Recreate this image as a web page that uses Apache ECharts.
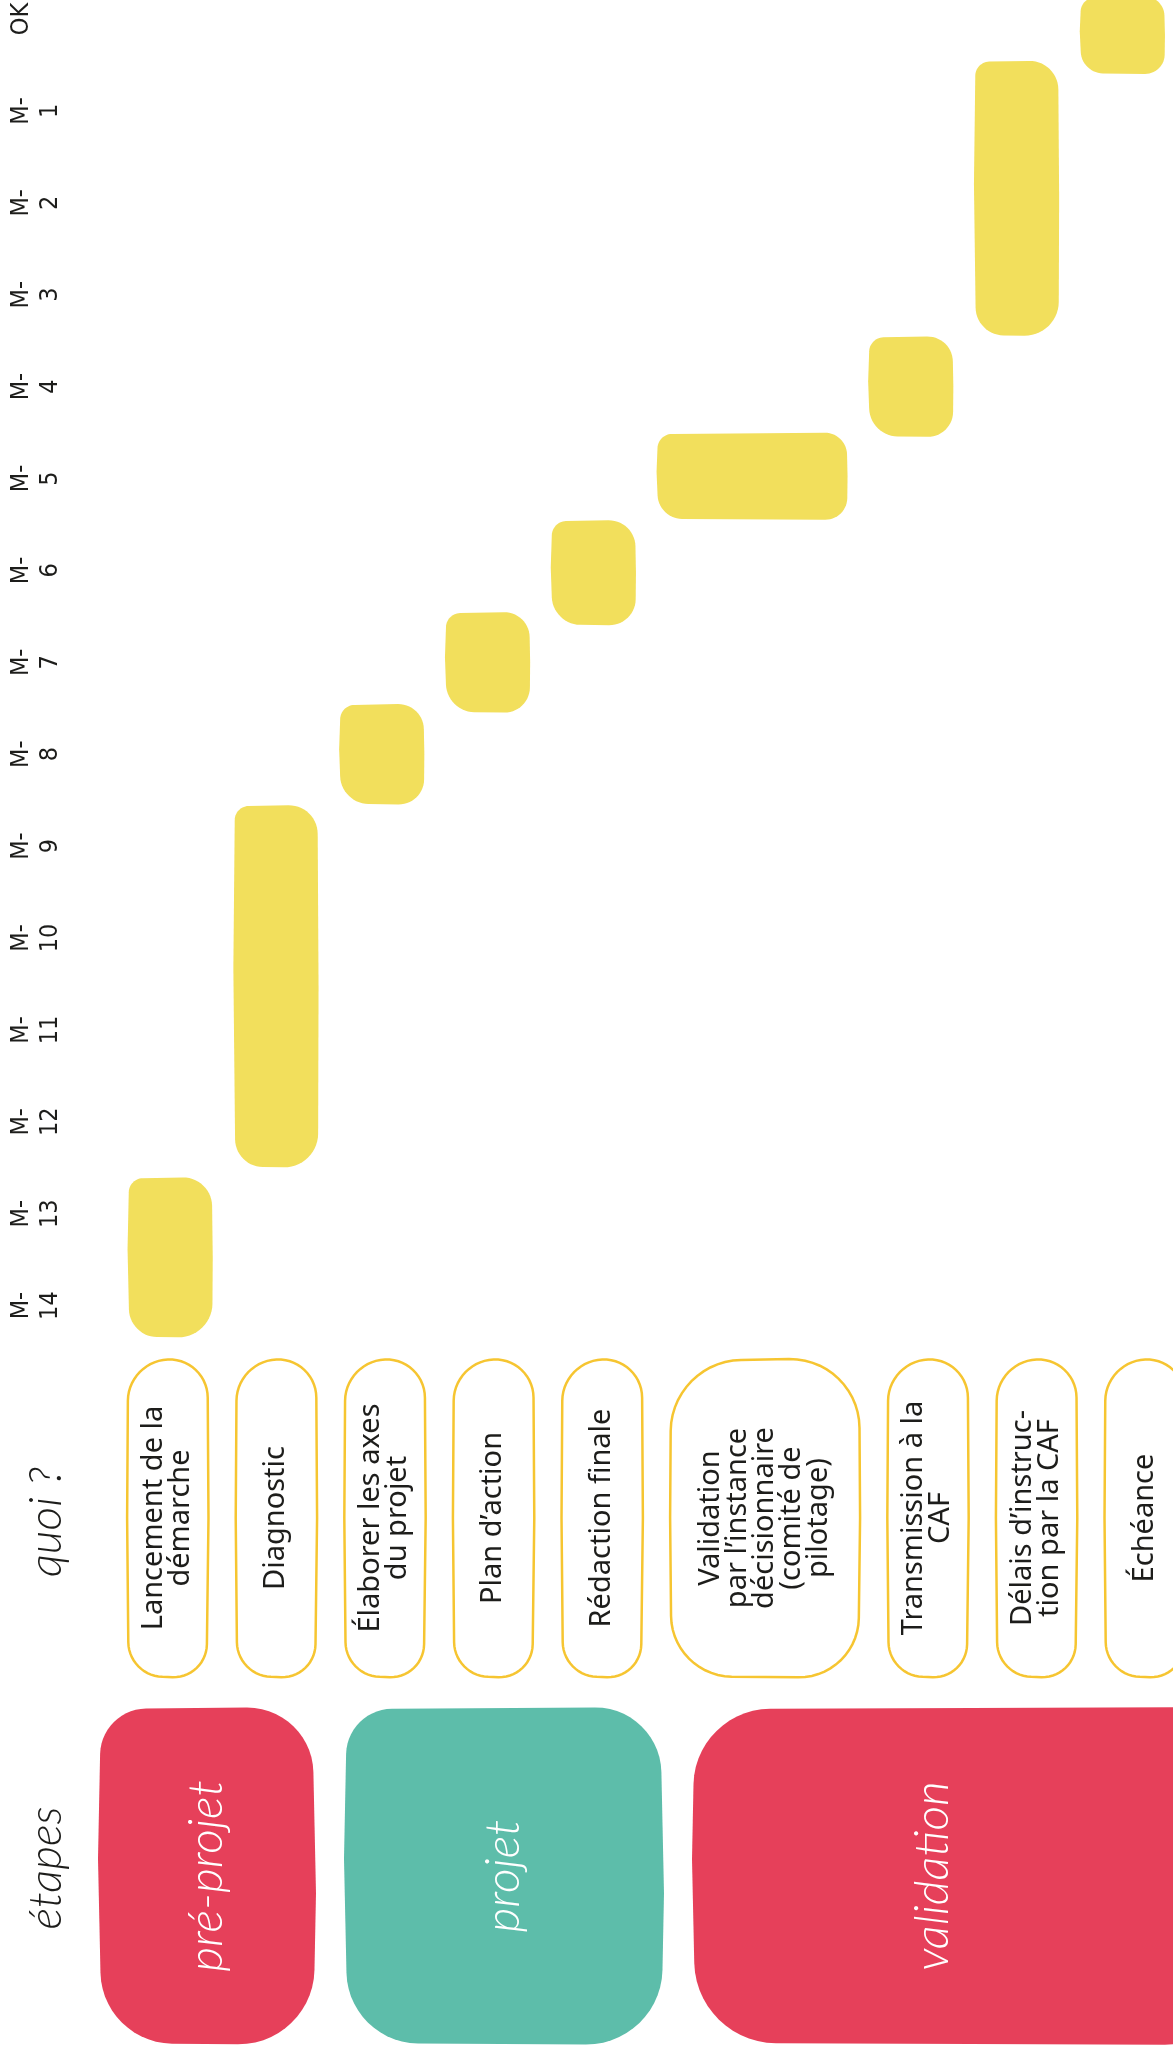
<!DOCTYPE html>
<html><head><meta charset="utf-8">
<style>html,body{margin:0;padding:0;background:#fff}#c{width:1173px;height:2054px}</style>
<script src="https://cdn.jsdelivr.net/npm/echarts@6/dist/echarts.min.js"></script>
</head><body><div id="c"></div>
<script>
// ---- data ----
const TICK_LABELS = ['OK','M-\n1','M-\n2','M-\n3','M-\n4','M-\n5','M-\n6','M-\n7','M-\n8','M-\n9','M-\n10','M-\n11','M-\n12','M-\n13','M-\n14'];
const TASKS = [
  'Lancement de la\ndémarche',
  'Diagnostic',
  'Élaborer les axes\ndu projet',
  'Plan d’action',
  'Rédaction finale',
  'Validation\npar l’instance\ndécisionnaire\n(comité de\npilotage)',
  'Transmission à la\nCAF',
  'Délais d’instruc-\ntion par la CAF',
  'Échéance'
];
// months before the deadline (start = earliest, end = latest)
const START = [14.35, 12.5, 8.55, 7.55, 6.6, 5.45, 4.55, 3.45, 0.6];
const END   = [12.6, 8.55, 7.45, 6.45, 5.45, 4.5, 3.45, 0.45, -0.25];
const PHASES = ['pré-projet', 'projet', 'validation'];
const PHASE_OF_TASK = [0, 0, 1, 1, 1, 2, 2, 2, 2];

// ---- style ----
const YELLOW = '#F2DF5C', OUTLINE = '#F6C531', RED = '#E6405A', TEAL = '#5DBDAA', INK = '#1d1d1b';
const PHASE_COLORS = [RED, TEAL, RED];
const SCRIPT = { fontFamily: 'Lato', fontStyle: 'italic', fontWeight: 300 };

// column layout derived from label length
const WEIGHTS = TASKS.map(t => t.split('\n').length >= 4 ? 2 : 1);
const COL_START = [];
let TOTAL = 0;
WEIGHTS.forEach(w => { COL_START.push(TOTAL); TOTAL += w; });

const barData = TASKS.map((t, i) => [COL_START[i], COL_START[i] + WEIGHTS[i], START[i], END[i]]);
const boxData = TASKS.map((t, i) => [COL_START[i], COL_START[i] + WEIGHTS[i], i]);
const phaseData = PHASES.map((p, k) => {
  const idx = PHASE_OF_TASK.map((v, i) => v === k ? i : -1).filter(i => i >= 0);
  const last = idx[idx.length - 1];
  return [COL_START[idx[0]], COL_START[last] + WEIGHTS[last], k];
});

// rounded polygon with per-corner radius (hand-drawn look)
function roundPoly(P, r) {
  const pts = [], n = P.length;
  for (let i = 0; i < n; i++) {
    const prev = P[(i + n - 1) % n], cur = P[i], next = P[(i + 1) % n];
    const d1 = Math.hypot(prev[0] - cur[0], prev[1] - cur[1]);
    const d2 = Math.hypot(next[0] - cur[0], next[1] - cur[1]);
    const ri = Math.min(r[i], d1 / 2, d2 / 2);
    if (ri <= 0.5) { pts.push(cur); continue; }
    const A = [cur[0] + (prev[0] - cur[0]) * ri / d1, cur[1] + (prev[1] - cur[1]) * ri / d1];
    const B = [cur[0] + (next[0] - cur[0]) * ri / d2, cur[1] + (next[1] - cur[1]) * ri / d2];
    const c1 = [A[0] + (cur[0] - A[0]) * 0.552, A[1] + (cur[1] - A[1]) * 0.552];
    const c2 = [B[0] + (cur[0] - B[0]) * 0.552, B[1] + (cur[1] - B[1]) * 0.552];
    for (let s = 0; s <= 14; s++) {
      const t = s / 14, u = 1 - t;
      pts.push([
        u * u * u * A[0] + 3 * u * u * t * c1[0] + 3 * u * t * t * c2[0] + t * t * t * B[0],
        u * u * u * A[1] + 3 * u * u * t * c1[1] + 3 * u * t * t * c2[1] + t * t * t * B[1]
      ]);
    }
  }
  return pts;
}

function renderBar(params, api) {
  const p0 = api.coord([api.value(0) + 0.095, api.value(3)]);
  const p1 = api.coord([api.value(1) - 0.095, api.value(2)]);
  const x = p0[0], y = p0[1], w = p1[0] - p0[0], h = p1[1] - p0[1];
  const s = Math.min(w, 86);
  const P = [[x + 2, y + 1.5], [x + w - 1, y], [x + w, y + h * 0.5], [x + w - 0.5, y + h], [x + 2.5, y + h - 1], [x + 0.5, y + h * 0.45]];
  const R = [s * 0.16, s * 0.34, 0, s * 0.4, s * 0.32, 0];
  return { type: 'polygon', shape: { points: roundPoly(P, R) }, style: { fill: YELLOW } };
}

function renderBox(params, api) {
  const cs = params.coordSys;
  const i = api.value(2);
  const l = api.coord([api.value(0) + 0.13, 0])[0];
  const r = api.coord([api.value(1) - 0.13, 0])[0];
  const w = r - l, y = cs.y, h = cs.height;
  const P = [[l + 1, y + 3], [l + w, y], [l + w + 1, y + h * 0.5], [l + w - 1, y + h], [l + 1.5, y + h - 2], [l, y + h * 0.5]];
  const rt = Math.min(w * 0.5, 70), rb = Math.min(w * 0.42, 60);
  const R = [rt, rt, 0, rb, rb, 0];
  return {
    type: 'group',
    children: [
      { type: 'polygon', shape: { points: roundPoly(P, R) },
        style: { fill: '#fff', stroke: OUTLINE, lineWidth: 2.5 } },
      { type: 'text', x: l + w / 2, y: y + h / 2, rotation: Math.PI / 2,
        style: { text: TASKS[i], fontSize: 29, lineHeight: 27, fontFamily: 'Noto Sans', fill: INK, align: 'center', verticalAlign: 'middle' } }
    ]
  };
}

function renderPhase(params, api) {
  const cs = params.coordSys;
  const k = api.value(2);
  const u0 = api.value(0);
  const l = api.coord([u0, 0])[0] + (u0 === 0 ? 0 : 14);
  const r = api.coord([api.value(1), 0])[0] - 14;
  const w = r - l, y = cs.y, h = cs.height;
  const P = [[l + 3, y + 2], [l + w - 4, y], [l + w, y + h * 0.55], [l + w - 3, y + h], [l + 4, y + h - 2], [l, y + h * 0.45]];
  const R = k === 2 ? [95, 60, 0, 80, 80, 0] : [45, 65, 0, 75, 70, 0];
  const visR = Math.min(r, 1173);
  return {
    type: 'group',
    children: [
      { type: 'polygon', shape: { points: roundPoly(P, R) }, style: { fill: PHASE_COLORS[k] } },
      { type: 'text', x: l + (visR - l) / 2, y: y + h / 2, rotation: Math.PI / 2,
        style: Object.assign({ text: PHASES[k], fontSize: 48, fill: '#fff', align: 'center', verticalAlign: 'middle' }, SCRIPT) }
    ]
  };
}

const chart = echarts.init(document.getElementById('c'), null, { renderer: 'canvas' });
const G0 = { left: 117, top: 19, width: 1058, height: 14.5 * 91.9 };
chart.setOption({
  animation: false,
  backgroundColor: '#fff',
  grid: [
    Object.assign({ containLabel: false, outerBoundsMode: 'none' }, G0),
    { left: 113, top: 1358, width: 1086, height: 320, containLabel: false, outerBoundsMode: 'none' },
    { left: 98, top: 1707, width: 1160, height: 338, containLabel: false, outerBoundsMode: 'none' }
  ],
  xAxis: [0, 1, 2].map(g => ({ type: 'value', gridIndex: g, min: 0, max: TOTAL, show: false })),
  yAxis: [
    { type: 'value', gridIndex: 0, inverse: true, min: 0, max: 14.5, interval: 1,
      axisLine: { show: false }, axisTick: { show: false }, splitLine: { show: false },
      axisLabel: {
        rotate: 90, align: 'center', verticalAlign: 'top', margin: G0.left - 7,
        fontSize: 25, lineHeight: 29, color: INK, fontFamily: 'Liberation Sans Narrow, DejaVu Sans Condensed, sans-serif',
        formatter: v => (Number.isInteger(v) && TICK_LABELS[v] !== undefined) ? TICK_LABELS[v] : ''
      } },
    { type: 'value', gridIndex: 1, min: 0, max: 1, show: false },
    { type: 'value', gridIndex: 2, min: 0, max: 1, show: false }
  ],
  graphic: [
    { type: 'text', x: 46, y: 1522, rotation: Math.PI / 2,
      style: Object.assign({ text: 'quoi ?', fontSize: 46, fill: INK, align: 'center', verticalAlign: 'middle' }, SCRIPT) },
    { type: 'text', x: 46, y: 1868, rotation: Math.PI / 2,
      style: Object.assign({ text: 'étapes', fontSize: 46, fill: INK, align: 'center', verticalAlign: 'middle' }, SCRIPT) }
  ],
  series: [
    { type: 'custom', name: 'tâches', xAxisIndex: 0, yAxisIndex: 0, clip: false, renderItem: renderBar,
      encode: { x: [0, 1], y: [2, 3] }, data: barData },
    { type: 'custom', name: 'quoi', xAxisIndex: 1, yAxisIndex: 1, clip: false, renderItem: renderBox,
      encode: { x: [0, 1] }, data: boxData },
    { type: 'custom', name: 'étapes', xAxisIndex: 2, yAxisIndex: 2, clip: false, renderItem: renderPhase,
      encode: { x: [0, 1] }, data: phaseData }
  ]
});
</script></body></html>
